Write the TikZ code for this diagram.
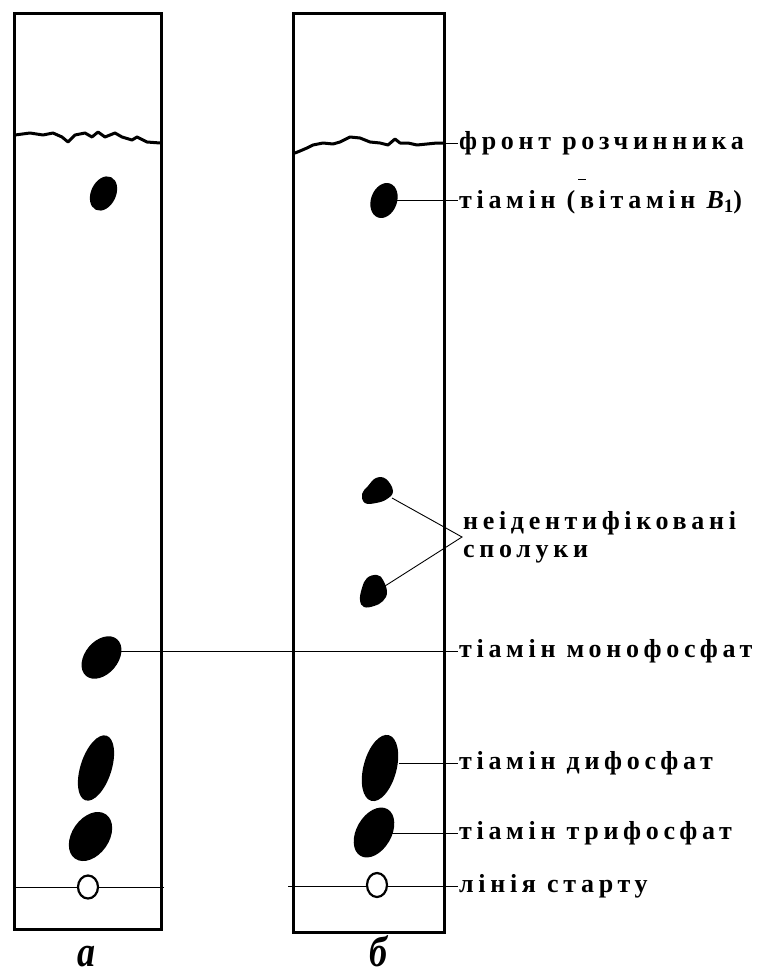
\documentclass[tikz,border=0pt]{standalone}
\usepackage{fontspec}
\setmainfont{Liberation Serif}
\newfontfamily\lblfont[LetterSpace=18]{Liberation Serif}
\usetikzlibrary{shapes.geometric}

\tikzset{
  plate/.style={line width=3pt},
  front/.style={line width=3pt, line join=round, line cap=round},
  lead/.style={line width=0.9pt},
  spot/.style={fill=black},
  startspot/.style={draw=black, fill=white, line width=2.2pt},
  lbl/.style={anchor=west, inner sep=1pt, align=left,
    font=\lblfont\bfseries\fontsize{26}{28}\selectfont},
  panel/.style={inner sep=0pt, anchor=base, font=\bfseries\itshape\fontsize{36}{36}\selectfont}
}

\begin{document}
\begin{tikzpicture}[x=1pt, y=-1pt]
  \useasboundingbox (0,0) rectangle (783,974);

  % chromatography plates
  \draw[plate] (14,14) rectangle (161,929);
  \draw[plate] (293,14) rectangle (444,932);

  % solvent fronts
  \draw[front] (15,135) -- (30,133) -- (43,135) -- (53,133) -- (62,137) -- (68,142)
    -- (75,135) -- (85,133) -- (92,137) -- (98,132) -- (105,137) -- (115,133)
    -- (122,137) -- (132,140) -- (137,137) -- (147,142) -- (160,143);
  \draw[front] (295,153) -- (300,151) -- (307,148) -- (313,145) -- (323,143)
    -- (333,144) -- (340,142) -- (350,137) -- (360,138) -- (370,142) -- (380,143)
    -- (388,145) -- (395,139) -- (400,143) -- (408,143) -- (417,145) -- (427,144)
    -- (437,143) -- (444,143);
  \coordinate (frontEnd) at (444,143);

  % spots of plate a
  \fill[spot, rotate around={65:(103.5,193.5)}] (103.5,193.5) ellipse (18 and 12.5);
  \fill[spot, rotate around={50:(101.5,657.5)}] (101.5,657.5) ellipse (24 and 16.5);
  \fill[spot, rotate around={72:(96,768)}] (96,768) ellipse (34 and 15.5);
  \fill[spot, rotate around={55:(90.5,836.5)}] (90.5,836.5) ellipse (27 and 18.5);

  % spots of plate b
  \fill[spot, rotate around={70:(384,200.5)}] (384,200.5) ellipse (18 and 13);
  \fill[spot] plot[smooth cycle, tension=0.7] coordinates {(362,494) (368,486) (376,478)
    (386,479) (393,491) (387,499) (376,503) (365,503)};
  \fill[spot] plot[smooth cycle, tension=0.7] coordinates {(360,600) (362,588) (367,578)
    (377,575) (383,580) (387,592) (383,601) (374,606) (364,607)};
  \fill[spot, rotate around={75:(380,768)}] (380,768) ellipse (34 and 16.5);
  \fill[spot, rotate around={60:(374,832.5)}] (374,832.5) ellipse (27 and 17.5);

  % leader end points on the spots
  \coordinate (thiB) at (397,200);
  \coordinate (unkA) at (392,498);
  \coordinate (unkB) at (385,586);
  \coordinate (monoA) at (121,651);
  \coordinate (diB) at (399,763);
  \coordinate (triB) at (392,833);
  \coordinate (startA0) at (13,887);
  \coordinate (startA1) at (164,887);
  \coordinate (startB0) at (288,886);

  % labels
  \node[lbl] (lFront) at (458,143) {фронт розчинника};
  \node[lbl] (lThi) at (458,202) {тіамін (вітамін {\itshape B}\raisebox{-0.35ex}{\fontsize{19}{19}\selectfont 1})};
  \node[lbl] (lUnk) at (462,537) {неідентифіковані\\сполуки};
  \node[lbl] (lMono) at (458,651) {тіамін монофосфат};
  \node[lbl] (lDi) at (458,763) {тіамін дифосфат};
  \node[lbl] (lTri) at (458,833) {тіамін трифосфат};
  \node[lbl] (lStart) at (458,886) {лінія старту};

  % leaders
  \draw[lead] (frontEnd) -- (lFront.west);
  \draw[lead] (thiB) -- (thiB -| lThi.west);
  \draw[lead] (unkA) -- (lUnk.west) -- (unkB);
  \draw[lead] (monoA) -- (monoA -| lMono.west);
  \draw[lead] (diB) -- (diB -| lDi.west);
  \draw[lead] (triB) -- (triB -| lTri.west);
  \draw[lead] (startA0) -- (startA1);
  \draw[lead] (startB0) -- (startB0 -| lStart.west);
  \draw[line width=1pt] (578,179) -- (586,179);

  % start points
  \draw[startspot] (88,887) ellipse (10 and 11.5);
  \draw[startspot] (377,885) ellipse (10 and 12);

  % panel letters
  \node[panel] (pa) at (86,966) {\scalebox{1}[1.2]{а}};
  \node[panel] (pb) at (378,966) {\scalebox{1}[1.2]{б}};
\end{tikzpicture}
\end{document}
